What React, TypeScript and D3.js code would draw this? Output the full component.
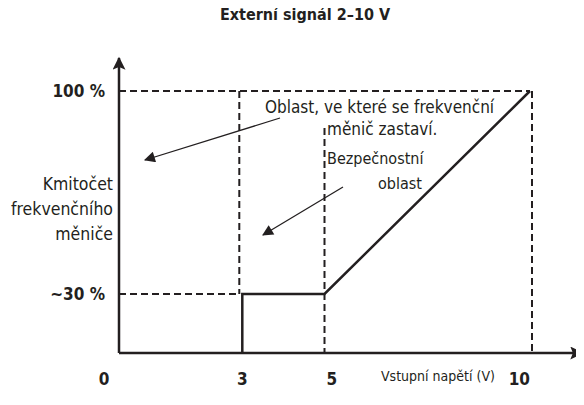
import { useEffect, useRef } from "react"
import * as d3 from "d3"

// schematic values
const xTicks = [0, 3, 5, 10]
const xTickLabels = ["0", "3", "5", "10"]
const yTicks = [30, 100]
const yTickLabels = ["~30 %", "100 %"]
const curveX = [3, 3, 5, 10]
const curveY = [0, 30, 30, 100]
const title = "Externí signál 2–10 V"
const xLabel = "Vstupní napětí (V)"
const yLabel = ["Kmitočet", "frekvenčního", "měniče"]
const stopText = ["Oblast, ve které se frekvenční", "měnič zastaví."]
const safeText = ["Bezpečnostní", "oblast"]

const W = 584
const H = 405
const FONT = "'Liberation Sans Narrow', 'DejaVu Sans Condensed', 'Open Sans', sans-serif"

export default function App() {
    const svgRef = useRef<SVGSVGElement | null>(null)

    useEffect(() => {
        if (!svgRef.current) return
        const svg = d3.select(svgRef.current)
        svg.selectAll("*").remove()

        const x = d3.scaleLinear().domain([0, 10]).range([119, 530])
        // the drawing is not to scale on y, so a piecewise scale
        const y = d3.scaleLinear().domain([0, 30, 100]).range([353, 294, 91])
        const ink = "#231f20"

        const defs = svg.append("defs")
        defs.append("marker")
            .attr("id", "ah")
            .attr("viewBox", "0 0 10 10")
            .attr("refX", 9)
            .attr("refY", 5)
            .attr("markerWidth", 17)
            .attr("markerHeight", 11)
            .attr("markerUnits", "userSpaceOnUse")
            .attr("orient", "auto")
            .append("path")
            .attr("d", "M0,0 L10,5 L0,10 Z")
            .attr("fill", ink)
        defs.append("marker")
            .attr("id", "ax")
            .attr("viewBox", "0 0 10 10")
            .attr("refX", 9)
            .attr("refY", 5)
            .attr("markerWidth", 18)
            .attr("markerHeight", 13)
            .attr("markerUnits", "userSpaceOnUse")
            .attr("orient", "auto")
            .append("path")
            .attr("d", "M0,0 L10,5 L0,10 L2,5 Z")
            .attr("fill", ink)

        svg.append("text")
            .attr("x", 305)
            .attr("y", 20)
            .attr("text-anchor", "middle")
            .attr("font-family", FONT)
            .attr("font-weight", "bold")
            .attr("font-size", 16)
            .attr("fill", ink)
            .text(title)

        const dash = (x1: number, y1: number, x2: number, y2: number) =>
            svg.append("line")
                .attr("x1", x1).attr("y1", y1).attr("x2", x2).attr("y2", y2)
                .attr("stroke", ink)
                .attr("stroke-width", 2)
                .attr("stroke-dasharray", "7 4")

        // guide lines
        dash(x(0), y(100), x(10), y(100))
        dash(x(0), y(30), x(3) - 3, y(30))
        dash(x(3) - 3, y(100), x(3) - 3, y(30))
        dash(x(5), 128, x(5), y(0))
        dash(x(10) + 2, y(100), x(10) + 2, y(0))

        // axes
        svg.append("line")
            .attr("x1", x(0)).attr("y1", y(0)).attr("x2", 582).attr("y2", y(0))
            .attr("stroke", ink).attr("stroke-width", 2.5)
            .attr("marker-end", "url(#ax)")
        svg.append("line")
            .attr("x1", x(0)).attr("y1", y(0)).attr("x2", x(0)).attr("y2", 58)
            .attr("stroke", ink).attr("stroke-width", 2.5)
            .attr("marker-end", "url(#ax)")

        // characteristic
        const pts = curveX.map((v, i) => [x(v), y(curveY[i])] as [number, number])
        svg.append("path")
            .attr("d", d3.line()(pts))
            .attr("fill", "none")
            .attr("stroke", ink)
            .attr("stroke-width", 2.5)

        // tick labels
        svg.append("g")
            .selectAll("text")
            .data(xTicks)
            .join("text")
            .attr("x", (d) => (d === 0 ? x(d) - 15 : d === 5 ? x(d) + 2 : x(d)))
            .attr("y", 385)
            .attr("text-anchor", (d) => (d === 5 ? "start" : d === 10 ? "end" : "middle"))
            .attr("font-family", FONT)
            .attr("font-weight", "bold")
            .attr("font-size", 17)
            .attr("fill", ink)
            .text((_, i) => xTickLabels[i])

        svg.append("g")
            .selectAll("text")
            .data(yTicks)
            .join("text")
            .attr("x", 105)
            .attr("y", (d) => y(d) + 6)
            .attr("text-anchor", "end")
            .attr("font-family", FONT)
            .attr("font-weight", "bold")
            .attr("font-size", 17)
            .attr("fill", ink)
            .text((_, i) => yTickLabels[i])

        svg.append("text")
            .attr("x", 381)
            .attr("y", 381)
            .attr("font-family", FONT)
            .attr("font-size", 14)
            .attr("fill", ink)
            .text(xLabel)

        svg.append("g")
            .selectAll("text")
            .data(yLabel)
            .join("text")
            .attr("x", 113)
            .attr("y", (_, i) => 190 + i * 25)
            .attr("text-anchor", "end")
            .attr("font-family", FONT)
            .attr("font-size", 17.5)
            .attr("fill", ink)
            .text((d) => d)

        // annotations
        svg.append("text")
            .attr("x", 265)
            .attr("y", 113)
            .attr("font-family", FONT)
            .attr("font-size", 17)
            .attr("fill", ink)
            .text(stopText[0])
        svg.append("text")
            .attr("x", 327)
            .attr("y", 135)
            .attr("font-family", FONT)
            .attr("font-size", 17)
            .attr("fill", ink)
            .text(stopText[1])
        svg.append("text")
            .attr("x", 327)
            .attr("y", 164)
            .attr("font-family", FONT)
            .attr("font-size", 16)
            .attr("fill", ink)
            .text(safeText[0])
        svg.append("text")
            .attr("x", 378)
            .attr("y", 189)
            .attr("font-family", FONT)
            .attr("font-size", 16)
            .attr("fill", ink)
            .text(safeText[1])

        svg.append("line")
            .attr("x1", 280).attr("y1", 118).attr("x2", 145).attr("y2", 160)
            .attr("stroke", ink).attr("stroke-width", 1.3)
            .attr("marker-end", "url(#ah)")
        svg.append("line")
            .attr("x1", 343).attr("y1", 187).attr("x2", 263).attr("y2", 235)
            .attr("stroke", ink).attr("stroke-width", 1.3)
            .attr("marker-end", "url(#ah)")
    }, [])

    return (
        <div style={{ margin: -8, background: "#fff" }}>
            <svg ref={svgRef} width={W} height={H} style={{ display: "block" }} />
        </div>
    )
}
